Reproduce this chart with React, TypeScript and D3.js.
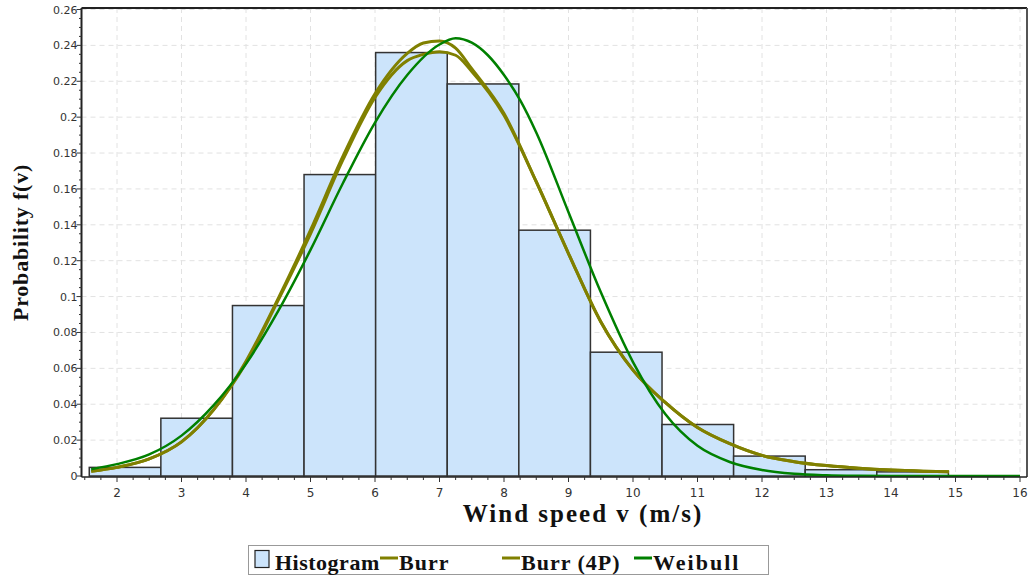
import * as d3 from "d3";

// histogram bins (m/s) and relative frequency
const binEdges = [1.57, 2.68, 3.79, 4.9, 6.01, 7.12, 8.23, 9.34, 10.45, 11.56, 12.67, 13.78, 14.89];
const binHeights = [0.0048, 0.0322, 0.095, 0.168, 0.236, 0.2185, 0.137, 0.069, 0.0287, 0.0111, 0.0035, 0.0023];

// fitted densities
const burrSpeed = [1.6, 2, 2.5, 3, 3.5, 4, 4.5, 5, 5.5, 6, 6.5, 6.75, 7, 7.25, 7.5, 8, 8.5, 9, 9.5, 10, 10.5, 11, 11.5, 12, 12.5, 13, 13.5, 14, 14.5, 14.9];
const burr = [0.0026, 0.0048, 0.0095, 0.019, 0.037, 0.064, 0.099, 0.137, 0.178, 0.213, 0.2355, 0.2413, 0.2425, 0.2385, 0.227, 0.202, 0.164, 0.124, 0.086, 0.059, 0.041, 0.027, 0.018, 0.0115, 0.008, 0.0058, 0.0043, 0.0033, 0.0027, 0.0024];
const burr4p = [0.0026, 0.0048, 0.0095, 0.019, 0.037, 0.063, 0.098, 0.135, 0.176, 0.211, 0.2315, 0.235, 0.2365, 0.2345, 0.2255, 0.201, 0.164, 0.124, 0.086, 0.059, 0.041, 0.027, 0.018, 0.0115, 0.008, 0.0058, 0.0043, 0.0033, 0.0027, 0.0024];

const weibullSpeed = [1.6, 2, 2.5, 3, 3.5, 4, 4.5, 5, 5.5, 6, 6.5, 7, 7.25, 7.5, 7.75, 8, 8.25, 8.5, 9, 9.5, 10, 10.5, 11, 11.5, 12, 12.5, 13, 13.5, 14, 15, 16];
const weibull = [0.0038, 0.0066, 0.012, 0.0225, 0.0395, 0.0625, 0.092, 0.126, 0.163, 0.197, 0.2235, 0.2405, 0.244, 0.2415, 0.2345, 0.2235, 0.2095, 0.1915, 0.147, 0.1025, 0.0635, 0.0345, 0.0168, 0.0078, 0.0033, 0.0012, 0.0004, 0.0001, 0, 0, 0];

const xTicks = [2, 3, 4, 5, 6, 7, 8, 9, 10, 11, 12, 13, 14, 15, 16];
const yTicks = [0, 0.02, 0.04, 0.06, 0.08, 0.1, 0.12, 0.14, 0.16, 0.18, 0.2, 0.22, 0.24, 0.26];
const yTickLabels = ["0", "0.02", "0.04", "0.06", "0.08", "0.1", "0.12", "0.14", "0.16", "0.18", "0.2", "0.22", "0.24", "0.26"];

const OLIVE = "#808000";
const GREEN = "#008000";
const BAR = "#cce4fb";

export default function App() {
  const width = 1031;
  const height = 577;
  const plot = { left: 81.5, right: 1027, top: 8, bottom: 477 };

  const x = d3.scaleLinear().domain([2, 16]).range([117, 1020]);
  const y = d3.scaleLinear().domain([0, 0.26]).range([476, 9.5]);

  const line = d3
    .line<[number, number]>()
    .x((d) => x(d[0]))
    .y((d) => y(d[1]))
    .curve(d3.curveMonotoneX);

  const burrPts = burrSpeed.map((v, i) => [v, burr[i]] as [number, number]);
  const burr4pPts = burrSpeed.map((v, i) => [v, burr4p[i]] as [number, number]);
  const weibullPts = weibullSpeed.map((v, i) => [v, weibull[i]] as [number, number]);

  const xMinor = d3.range(1.5, 16.01, 0.25).filter((v) => Math.abs(v - Math.round(v)) > 0.01);
  const yMinor = d3.range(0, 0.2601, 0.005).filter((v) => Math.abs(v / 0.02 - Math.round(v / 0.02)) > 0.01);

  const tickFont = { fontFamily: "DejaVu Sans", fontSize: 11, fill: "#333" };
  const titleFont = { fontFamily: "Liberation Serif", fontWeight: "bold" as const, fill: "#111" };

  return (
    <svg
      width={width}
      height={height}
      style={{ position: "absolute", left: 0, top: 0, background: "#fff" }}
    >
      {/* grid */}
      <g stroke="#e2e2e2" strokeWidth={1} strokeDasharray="5,4">
        {xTicks.map((t) => (
          <line key={"gx" + t} x1={x(t)} x2={x(t)} y1={plot.top} y2={plot.bottom} />
        ))}
        {yTicks.slice(1).map((t) => (
          <line key={"gy" + t} x1={plot.left} x2={plot.right} y1={y(t)} y2={y(t)} />
        ))}
      </g>

      {/* histogram */}
      <g fill={BAR} stroke="#333" strokeWidth={1.5}>
        {binHeights.map((h, i) => (
          <rect
            key={"b" + i}
            x={x(binEdges[i])}
            y={y(h)}
            width={x(binEdges[i + 1]) - x(binEdges[i])}
            height={y(0) - y(h)}
          />
        ))}
      </g>

      {/* fitted curves */}
      <path d={line(burrPts) || ""} fill="none" stroke={OLIVE} strokeWidth={3} />
      <path d={line(burr4pPts) || ""} fill="none" stroke={OLIVE} strokeWidth={3} />
      <path d={line(weibullPts) || ""} fill="none" stroke={GREEN} strokeWidth={2.5} />

      {/* frame */}
      <line x1={plot.left} x2={plot.right} y1={plot.top} y2={plot.top} stroke="#222" strokeWidth={2} />
      <line x1={plot.right} x2={plot.right} y1={plot.top} y2={plot.bottom} stroke="#555" strokeWidth={2} />
      <line x1={plot.left} x2={plot.left} y1={plot.top} y2={plot.bottom} stroke="#222" strokeWidth={2} />
      <line x1={plot.left} x2={plot.right} y1={plot.bottom} y2={plot.bottom} stroke="#222" strokeWidth={1.5} />

      {/* y axis */}
      <g stroke="#333" strokeWidth={1}>
        {yTicks.map((t) => (
          <line key={"yt" + t} x1={plot.left - 5} x2={plot.left} y1={y(t)} y2={y(t)} />
        ))}
        {yMinor.map((t) => (
          <line key={"ym" + t} x1={plot.left - 2.5} x2={plot.left} y1={y(t)} y2={y(t)} />
        ))}
      </g>
      {yTicks.map((t, i) => (
        <text key={"yl" + t} x={plot.left - 4} y={y(t) + 4} textAnchor="end" {...tickFont}>
          {yTickLabels[i]}
        </text>
      ))}

      {/* x axis */}
      <g stroke="#333" strokeWidth={1}>
        {xTicks.map((t) => (
          <line key={"xt" + t} x1={x(t)} x2={x(t)} y1={plot.bottom} y2={plot.bottom + 5} />
        ))}
        {xMinor.map((t) => (
          <line key={"xm" + t} x1={x(t)} x2={x(t)} y1={plot.bottom} y2={plot.bottom + 3} />
        ))}
      </g>
      {xTicks.map((t) => (
        <text key={"xl" + t} x={x(t)} y={497} textAnchor="middle" {...tickFont} fontSize={12}>
          {t}
        </text>
      ))}

      {/* axis titles */}
      <text x={583} y={522} textAnchor="middle" {...titleFont} fontSize={25} letterSpacing={2}>
        Wind speed v (m/s)
      </text>
      <text
        transform={`translate(28,${(plot.top + plot.bottom) / 2}) rotate(-90)`}
        textAnchor="middle"
        {...titleFont}
        fontSize={22}
        letterSpacing={0.8}
      >
        Probability f(v)
      </text>

      {/* legend */}
      <rect x={248.5} y={545.5} width={520} height={29} fill="#fff" stroke="#999" strokeWidth={1} />
      <rect x={255} y={550.5} width={14} height={17} fill={BAR} stroke="#222" strokeWidth={1.2} />
      <g {...titleFont} fontSize={22}>
        <text x={275} y={570} letterSpacing={0.5}>Histogram</text>
        <text x={399} y={570} letterSpacing={1}>Burr</text>
        <text x={521} y={570} letterSpacing={1}>Burr (4P)</text>
        <text x={653} y={570} letterSpacing={2}>Weibull</text>
      </g>
      <line x1={380} x2={398} y1={558} y2={558} stroke={OLIVE} strokeWidth={3} />
      <line x1={502} x2={520} y1={558} y2={558} stroke={OLIVE} strokeWidth={3} />
      <line x1={634} x2={652} y1={558} y2={558} stroke={GREEN} strokeWidth={3} />
    </svg>
  );
}
